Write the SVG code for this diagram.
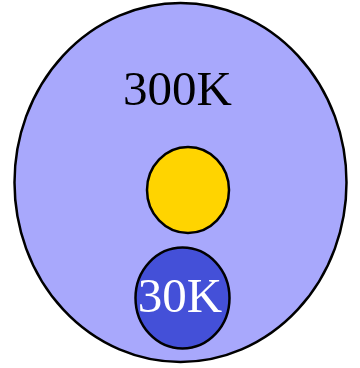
<svg xmlns="http://www.w3.org/2000/svg" width="360" height="368" viewBox="0 0 360 368">
<style>
.o{stroke:#000;stroke-width:2.5}
.t{font-family:"Liberation Serif",serif;font-size:49px;text-anchor:middle}
</style>
<rect width="360" height="368" fill="#fff"/>
<g id="outer"><ellipse class="o" cx="180.5" cy="182.5" rx="166" ry="179.5" fill="#A8A8FC"/><text class="t" x="177.5" y="105" fill="#000">300K</text></g>
<g id="yellow"><ellipse class="o" cx="188" cy="190" rx="41" ry="43" fill="#FFD400"/></g>
<g id="inner"><ellipse class="o" cx="182.5" cy="298" rx="47" ry="50.5" fill="#4450D8"/><text class="t" x="180" y="312" fill="#fff">30K</text></g>
<g id="connectors"/>
</svg>
